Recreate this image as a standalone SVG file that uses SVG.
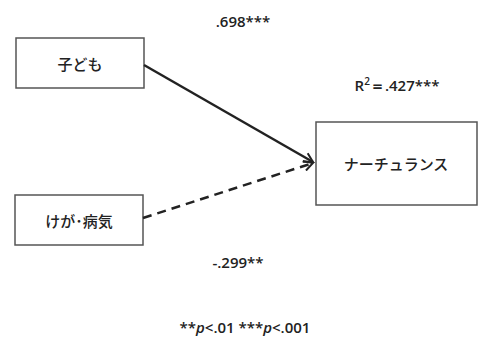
<svg xmlns="http://www.w3.org/2000/svg" width="480" height="350" viewBox="0 0 480 350">
<defs>
<marker id="arr" markerWidth="12" markerHeight="12" refX="10" refY="6" orient="auto" markerUnits="userSpaceOnUse">
<path d="M1,1 L10,6 L1,11" fill="none" stroke="#222" stroke-width="2"/>
</marker>
<style>
.box{fill:#fff;stroke:#555;stroke-width:1.5}
.jp{font-family:"Noto Sans CJK JP","Noto Sans",sans-serif;font-size:15px;font-weight:500;fill:#222;text-anchor:middle;dominant-baseline:central}
.lb{font-family:"Open Sans","Liberation Sans",sans-serif;font-size:15px;font-weight:600;fill:#222;text-anchor:middle}
.ln{stroke:#222;stroke-width:2.5;fill:none}
</style>
</defs>
<rect width="480" height="350" fill="#fff"/>
<g id="node-kodomo">
<rect class="box" x="16" y="38" width="128" height="50"/>
<text class="jp" x="80" y="63">子ども</text>
</g>
<g id="node-kega">
<rect class="box" x="15" y="195" width="128" height="50"/>
<text class="jp" x="79" y="220">けが･病気</text>
</g>
<g id="node-nurturance">
<rect class="box" x="316" y="122" width="161" height="83"/>
<text class="jp" x="396" y="163">ナーチュランス</text>
</g>
<g id="connectors">
<line class="ln" x1="144" y1="65" x2="313" y2="162" marker-end="url(#arr)"/>
<line class="ln" x1="143" y1="218" x2="313" y2="163" stroke-dasharray="9,6" marker-end="url(#arr)"/>
</g>
<g id="labels">
<text class="lb" x="243" y="27">.698***</text>
<text class="lb" x="397" y="91">R<tspan dy="-6" font-size="10">2</tspan><tspan dy="6">＝.427***</tspan></text>
<text class="lb" x="238" y="268">-.299**</text>
<text class="lb" x="245" y="333">**<tspan font-style="italic">p</tspan>&lt;.01 ***<tspan font-style="italic">p</tspan>&lt;.001</text>
</g>
</svg>
